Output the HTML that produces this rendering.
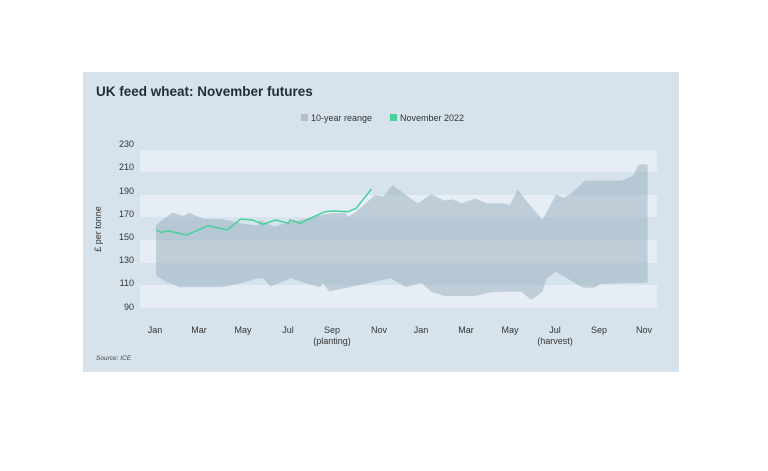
<!DOCTYPE html>
<html><head><style>
body{margin:0;background:#fff;width:768px;height:471px;overflow:hidden;font-family:"Liberation Sans",sans-serif}
</style></head><body>
<svg width="768" height="471" xmlns="http://www.w3.org/2000/svg" style="position:absolute;left:0;top:0">
<rect x="83" y="72" width="596" height="300" fill="#d6e3ec"/>
<text x="96" y="96" font-size="13.5" font-weight="bold" fill="#1f2d3a">UK feed wheat: November futures</text>
<rect x="301" y="114" width="7" height="7" fill="#b8bec4"/>
<text x="311" y="121" font-size="9" fill="#333">10-year reange</text>
<rect x="390" y="114" width="7" height="7" fill="#45d199"/>
<text x="400" y="121" font-size="9" fill="#333">November 2022</text>
<g fill="#e6edf4">
<rect x="140" y="150" width="517" height="22"/>
<rect x="140" y="195" width="517" height="22"/>
<rect x="140" y="240" width="517" height="23"/>
<rect x="140" y="285" width="517" height="23"/>
</g>
<g transform="translate(83,70) scale(0.3846,0.3333)">
<polygon fill="#8fa6b5" fill-opacity="0.45" points="190,465 232,428 262,438 275,428 315,447 360,447 410,460 455,467 460,450 497,470 540,455 560,452 600,440 640,430 680,428 690,440 710,425 760,375 780,380 805,345 840,375 870,400 905,373 940,392 960,388 985,400 1020,386 1050,400 1095,400 1110,405 1130,358 1165,410 1195,450 1230,373 1250,383 1270,370 1305,332 1400,332 1430,318 1445,283 1468,283 1468,638 1400,640 1345,642 1330,653 1300,653 1280,640 1230,605 1205,625 1195,665 1165,690 1140,665 1100,665 1060,667 1020,678 940,678 905,665 880,638 840,652 800,625 740,640 680,655 640,665 625,640 615,652 580,640 540,625 487,650 470,625 455,625 410,640 360,652 250,652 215,635 190,617"/>
<polyline fill="none" stroke="#45d199" stroke-width="1.5" vector-effect="non-scaling-stroke" points="190,480 205,488 218,482 270,495 325,467 375,480 410,447 440,450 468,463 500,450 535,460 538,450 545,452 565,460 600,440 630,425 650,423 690,425 710,415 750,357"/>
</g>
<g font-size="9" fill="#333" text-anchor="end">
<text x="134" y="147">230</text><text x="134" y="170">210</text><text x="134" y="194">190</text><text x="134" y="217">170</text><text x="134" y="240">150</text><text x="134" y="263">130</text><text x="134" y="286">110</text><text x="134" y="310">90</text>
</g>
<text transform="translate(101,229) rotate(-90)" font-size="9" fill="#333" text-anchor="middle">£ per tonne</text>
<g font-size="9" fill="#333" text-anchor="middle">
<text x="155" y="333">Jan</text><text x="199" y="333">Mar</text><text x="243" y="333">May</text><text x="288" y="333">Jul</text><text x="332" y="333">Sep</text><text x="332" y="344">(planting)</text><text x="379" y="333">Nov</text><text x="421" y="333">Jan</text><text x="466" y="333">Mar</text><text x="510" y="333">May</text><text x="555" y="333">Jul</text><text x="555" y="344">(harvest)</text><text x="599" y="333">Sep</text><text x="644" y="333">Nov</text>
</g>
<text x="96" y="360" font-size="6.5" font-style="italic" fill="#444">Source: ICE</text>
</svg>
</body></html>
